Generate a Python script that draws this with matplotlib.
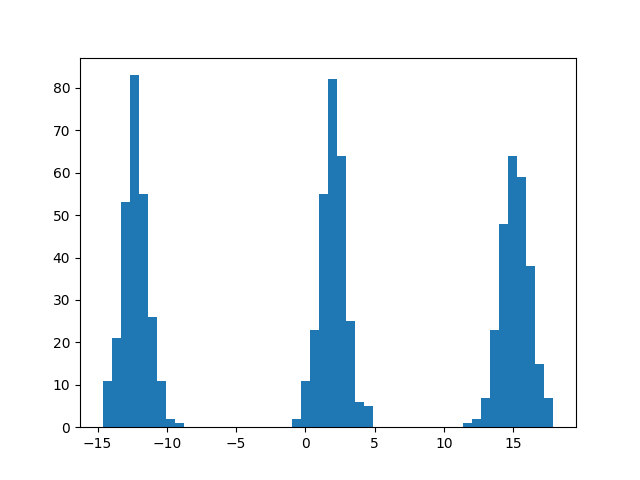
import numpy as np
import matplotlib.pyplot as plt

x_min = -14.64
x_max = 17.89
counts = [11, 21, 53, 83, 55, 26, 11, 2, 1, 0,
          0, 0, 0, 0, 0, 0, 0, 0, 0, 0,
          0, 2, 11, 23, 55, 82, 64, 25, 6, 5,
          0, 0, 0, 0, 0, 0, 0, 0, 0, 0,
          1, 2, 7, 23, 48, 64, 59, 38, 15, 7]

edges = np.linspace(x_min, x_max, len(counts) + 1)
centers = (edges[:-1] + edges[1:]) / 2

fig, ax = plt.subplots(figsize=(6.4, 4.8), dpi=100)
ax.hist(centers, bins=edges, weights=counts)
fig.savefig("out.png")
